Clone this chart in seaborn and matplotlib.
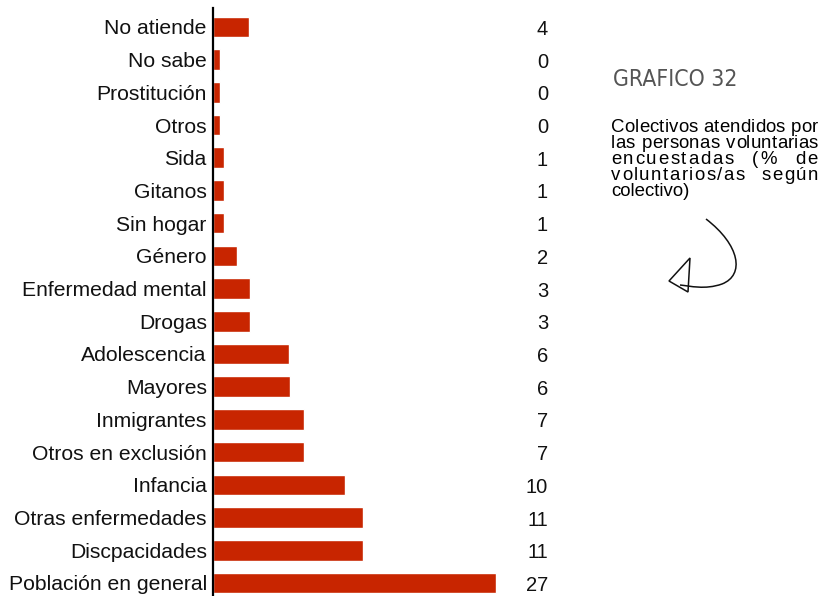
import matplotlib
matplotlib.use("Agg")
import matplotlib.pyplot as plt
import pandas as pd
import seaborn as sns
from matplotlib.patches import PathPatch, Polygon
from matplotlib.path import Path
from matplotlib.transforms import Affine2D, blended_transform_factory, offset_copy

# categories, top to bottom
colectivos = ["No atiende", "No sabe", "Prostitución", "Otros", "Sida", "Gitanos",
              "Sin hogar", "Género", "Enfermedad mental", "Drogas", "Adolescencia",
              "Mayores", "Inmigrantes", "Otros en exclusión", "Infancia",
              "Otras enfermedades", "Discpacidades", "Población en general"]
# bar lengths as drawn
longitud_barra = [3.4, 0.7, 0.7, 0.7, 1.05, 1.05, 1.05, 2.3, 3.5, 3.5, 7.25,
                  7.35, 8.7, 8.7, 12.6, 14.3, 14.3, 27]
# numbers printed in the right column
valor_mostrado = [4, 0, 0, 0, 1, 1, 1, 2, 3, 3, 6, 6, 7, 7, 10, 11, 11, 27]

titulo = "GRAFICO 32"
descripcion = ["Colectivos atendidos por", "las personas voluntarias",
               "encuestadas (% de", "voluntarios/as según", "colectivo)"]

sns.set_theme(style="white")
plt.rcParams['font.family'] = ['Liberation Sans', 'DejaVu Sans']

W, H = 822, 596
fig = plt.figure(figsize=(W / 100, H / 100), dpi=100)
px = Affine2D().scale(1 / W, -1 / H).translate(0, 1) + fig.transFigure

ax = fig.add_axes([213 / W, 0, 314.4 / W, 1 - 8 / H])
df = pd.DataFrame({"colectivo": colectivos, "valor": longitud_barra})
sns.barplot(data=df, x="valor", y="colectivo", orient="h", color="#c82500",
            saturation=1, width=0.63, ax=ax)
ax.set_xlim(0, 30)
ax.set_ylim(17.4, -0.58)
ax.set_xlabel("")
ax.set_ylabel("")
ax.set_xticks([])
ax.tick_params(axis="y", length=0, pad=4.5, labelsize=15.2, labelcolor="#111111")
for s in ["top", "right", "bottom"]:
    ax.spines[s].set_visible(False)
ax.spines["left"].set_color("black")
ax.spines["left"].set_linewidth(1.6)

# value column
tr = offset_copy(blended_transform_factory(px, ax.transData), fig=fig, x=0, y=-2.5, units="dots")
for i, v in enumerate(valor_mostrado):
    fig.text(548, i, str(v), transform=tr, ha="right", va="center",
             fontsize=14.5, color="#111111")

# title
fig.text(613, 80, titulo, transform=px, ha="left", va="center", fontsize=16.5,
         family="DejaVu Sans", fontstretch="condensed", fontweight="light",
         color="#555555")

# justified description block (extra space spread over letters, more on word gaps)
x0, x1 = 611, 818
ys = [128, 144, 160, 176, 192]
fs = 13.4
fig.canvas.draw()
rend = fig.canvas.get_renderer()
for k, (line, y) in enumerate(zip(descripcion, ys)):
    if k == len(descripcion) - 1:
        fig.text(x0, y, line, transform=px, ha="left", va="center",
                 fontsize=fs, color="black")
        continue
    chars = [fig.text(x0, y, c, transform=px, ha="left", va="center",
                      fontsize=fs, color="black") for c in line]
    # natural advance: width of prefix strings
    probe = fig.text(0, 0, "", fontsize=fs)
    adv = []
    for j in range(len(line) + 1):
        probe.set_text(line[:j] + "|")
        adv.append(probe.get_window_extent(rend).width)
    probe.remove()
    bar_w = adv[0]
    natural = adv[-1] - bar_w
    extra = x1 - x0 - natural
    weights = [4.0 if line[j] == " " or line[j - 1] == " " else 1.0 for j in range(1, len(line))]
    unit = extra / sum(weights)
    shift = 0.0
    for j, t in enumerate(chars):
        if j > 0:
            shift += weights[j - 1] * unit
        t.set_position((x0 + adv[j] - bar_w + shift, y))

# hand drawn arrow
curve = Path([(706, 219), (740, 245), (745, 275), (722, 284), (705, 290), (690, 286), (680, 285)],
             [Path.MOVETO, Path.CURVE4, Path.CURVE4, Path.CURVE4, Path.CURVE4, Path.CURVE4, Path.CURVE4])
fig.add_artist(PathPatch(curve, transform=px, fill=False, lw=1.1, color="#111111"))
fig.add_artist(Polygon([(690, 258), (669, 281), (688, 292)], closed=True, fill=False,
                       transform=px, lw=1.1, edgecolor="#111111"))

fig.savefig("out.png", dpi=100)
